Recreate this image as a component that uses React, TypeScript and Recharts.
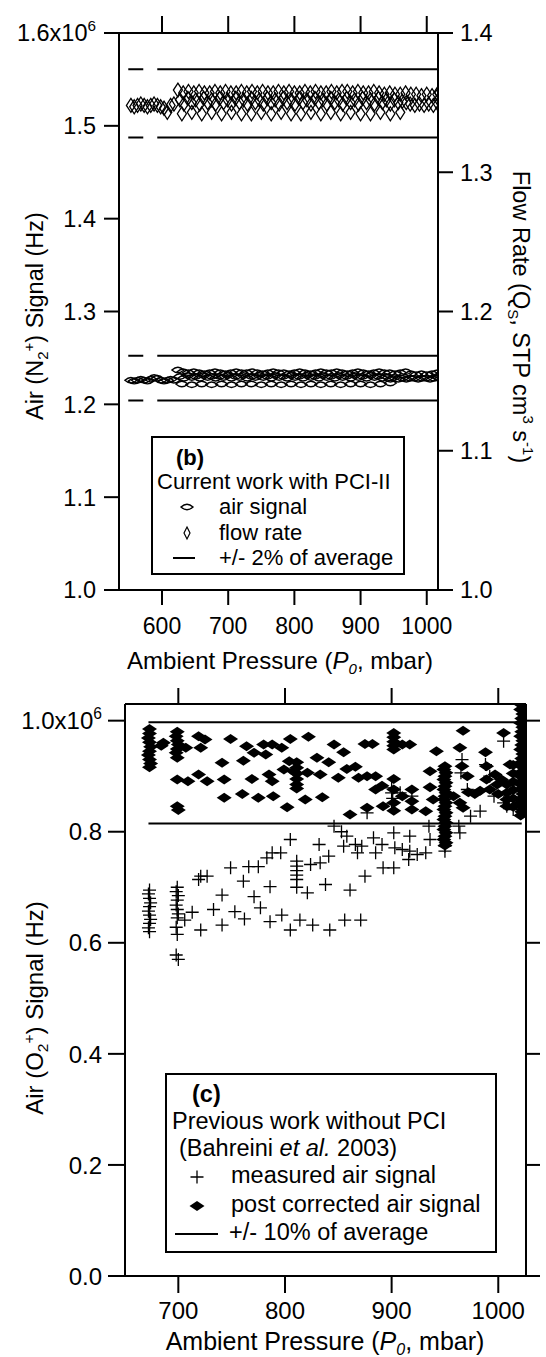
import React from 'react';
import { ComposedChart, Scatter, Line, XAxis, YAxis } from 'recharts';

type Pt = [number, number];
const FONT = '"Liberation Sans", Arial, Helvetica, sans-serif';

// ---------- panel (b): current work with PCI-II ----------
const xTicksB = [600, 700, 800, 900, 1000];
const airTicks = [1.0, 1.1, 1.2, 1.3, 1.4, 1.5, 1.6]; // x10^6 Hz
const flowTicks = [1.0, 1.1, 1.2, 1.3, 1.4]; // STP cm3 s-1

// air signal (x10^6 Hz, left axis)
const airLeft: Pt[] = [
  [553, 1.226], [558, 1.225], [563, 1.226], [568, 1.227], [573, 1.226], [578, 1.225], [583, 1.227],
  [588, 1.229], [593, 1.228], [598, 1.226], [603, 1.225], [608, 1.226], [613, 1.227], [618, 1.226],
];
const airUpper: Pt[] = [
  [624, 1.237], [632, 1.235], [640, 1.234], [648, 1.235], [656, 1.234], [664, 1.233], [672, 1.234],
  [680, 1.235], [688, 1.234], [696, 1.233], [704, 1.234], [712, 1.235], [720, 1.234], [728, 1.234],
  [736, 1.235], [744, 1.234], [752, 1.233], [760, 1.234], [768, 1.235], [776, 1.234], [784, 1.234],
  [792, 1.233], [800, 1.234], [808, 1.235], [816, 1.234], [824, 1.233], [832, 1.234], [840, 1.235],
  [848, 1.234], [856, 1.234], [864, 1.235], [872, 1.234], [880, 1.233], [888, 1.234], [896, 1.235],
  [904, 1.234], [912, 1.233], [920, 1.234], [928, 1.235], [936, 1.234], [944, 1.234], [952, 1.233],
  [960, 1.234], [968, 1.235], [976, 1.233], [984, 1.232], [992, 1.233], [1000, 1.232], [1008, 1.233],
  [1016, 1.234], [1019, 1.231],
];
const airMiddle: Pt[] = [
  [627, 1.230], [633, 1.228], [639, 1.231], [645, 1.229], [651, 1.230], [657, 1.228], [663, 1.231],
  [669, 1.229], [675, 1.230], [681, 1.228], [687, 1.230], [693, 1.229], [699, 1.231], [705, 1.228],
  [711, 1.230], [717, 1.229], [723, 1.231], [729, 1.228], [735, 1.230], [741, 1.229], [747, 1.231],
  [753, 1.229], [759, 1.230], [765, 1.228], [771, 1.231], [777, 1.229], [783, 1.230], [789, 1.228],
  [795, 1.231], [801, 1.229], [807, 1.230], [813, 1.228], [819, 1.231], [825, 1.229], [831, 1.230],
  [837, 1.228], [843, 1.231], [849, 1.229], [855, 1.230], [861, 1.228], [867, 1.231], [873, 1.229],
  [879, 1.230], [885, 1.228], [891, 1.231], [897, 1.229], [903, 1.230], [909, 1.228], [915, 1.231],
  [921, 1.229], [927, 1.230], [933, 1.228], [939, 1.230], [945, 1.227], [951, 1.229], [957, 1.227],
  [963, 1.228], [969, 1.227], [975, 1.228], [981, 1.228], [987, 1.227], [993, 1.228], [999, 1.228],
  [1005, 1.227], [1011, 1.228], [1017, 1.229],
];
const airLower: Pt[] = [
  [630, 1.222], [645, 1.221], [660, 1.222], [675, 1.221], [690, 1.222], [705, 1.221], [720, 1.222],
  [735, 1.222], [750, 1.221], [765, 1.222], [780, 1.221], [795, 1.222], [810, 1.221], [825, 1.222],
  [840, 1.221], [855, 1.222], [870, 1.221], [885, 1.222], [900, 1.222], [915, 1.221], [930, 1.222],
  [945, 1.223],
];

// flow rate (STP cm3 s-1, right axis)
const flowLeft: Pt[] = [
  [553, 1.348], [558, 1.347], [563, 1.348], [568, 1.349], [573, 1.348], [578, 1.347], [583, 1.348],
  [588, 1.349], [593, 1.348], [598, 1.347], [603, 1.346], [608, 1.343], [613, 1.348], [618, 1.349],
];
const flowUpper: Pt[] = [
  [624, 1.359], [632, 1.357], [640, 1.358], [648, 1.357], [656, 1.358], [664, 1.357], [672, 1.357],
  [680, 1.358], [688, 1.357], [696, 1.358], [704, 1.357], [712, 1.357], [720, 1.358], [728, 1.357],
  [736, 1.358], [744, 1.357], [752, 1.358], [760, 1.357], [768, 1.357], [776, 1.358], [784, 1.357],
  [792, 1.358], [800, 1.357], [808, 1.357], [816, 1.358], [824, 1.357], [832, 1.358], [840, 1.357],
  [848, 1.357], [856, 1.358], [864, 1.357], [872, 1.358], [880, 1.358], [888, 1.357], [896, 1.358],
  [904, 1.357], [912, 1.357], [920, 1.358], [928, 1.357], [936, 1.356], [944, 1.357], [952, 1.356],
  [960, 1.356], [968, 1.357], [976, 1.356], [984, 1.356], [992, 1.355], [1000, 1.356], [1008, 1.355],
  [1016, 1.356], [1019, 1.357],
];
const flowMiddle: Pt[] = [
  [627, 1.352], [633, 1.349], [639, 1.353], [645, 1.350], [651, 1.352], [657, 1.349], [663, 1.353],
  [669, 1.350], [675, 1.352], [681, 1.349], [687, 1.353], [693, 1.350], [699, 1.352], [705, 1.349],
  [711, 1.353], [717, 1.350], [723, 1.352], [729, 1.349], [735, 1.353], [741, 1.350], [747, 1.352],
  [753, 1.349], [759, 1.353], [765, 1.350], [771, 1.352], [777, 1.349], [783, 1.353], [789, 1.350],
  [795, 1.352], [801, 1.349], [807, 1.353], [813, 1.350], [819, 1.352], [825, 1.349], [831, 1.353],
  [837, 1.350], [843, 1.352], [849, 1.349], [855, 1.353], [861, 1.350], [867, 1.352], [873, 1.349],
  [879, 1.353], [885, 1.350], [891, 1.352], [897, 1.349], [903, 1.353], [909, 1.350], [915, 1.352],
  [921, 1.349], [927, 1.353], [933, 1.350], [939, 1.352], [945, 1.349], [951, 1.352], [957, 1.350],
  [963, 1.351], [969, 1.350],
];
const flowLower: Pt[] = [
  [630, 1.342], [645, 1.343], [660, 1.342], [675, 1.343], [690, 1.342], [705, 1.343], [720, 1.342],
  [735, 1.342], [750, 1.343], [765, 1.342], [780, 1.343], [795, 1.342], [810, 1.342], [825, 1.343],
  [840, 1.342], [855, 1.343], [870, 1.342], [885, 1.343], [900, 1.342], [915, 1.342], [930, 1.343],
  [945, 1.342], [960, 1.343],
];
const flowEnd: Pt[] = [
  [975, 1.349], [982, 1.348], [989, 1.349], [996, 1.348], [1003, 1.349], [1010, 1.348], [1017, 1.349],
];

// +/- 2% of average
const flowHigh: Pt[] = [[549, 1.374], [1016, 1.374]];
const flowLow: Pt[] = [[549, 1.325], [1016, 1.325]];
const airHigh: Pt[] = [[549, 1.2524], [1016, 1.2524]];
const airLow: Pt[] = [[549, 1.204], [1016, 1.204]];

// ---------- panel (c): previous work without PCI ----------
const xTicksC = [700, 800, 900, 1000];
const o2Ticks = [0.0, 0.2, 0.4, 0.6, 0.8, 1.0]; // x10^6 Hz

const measured: Pt[] = [
  [673, 0.695], [672, 0.688], [673, 0.680], [674, 0.672], [673, 0.665], [672, 0.657], [673, 0.650],
  [674, 0.642], [673, 0.635], [672, 0.627], [673, 0.620],
  [699, 0.700], [698, 0.692], [700, 0.685], [699, 0.677], [698, 0.668], [699, 0.660], [700, 0.652],
  [699, 0.645], [698, 0.628], [699, 0.615], [698, 0.578], [700, 0.570],
  [706, 0.641], [713, 0.655], [719, 0.714], [721, 0.720], [727, 0.720], [721, 0.623], [733, 0.660],
  [741, 0.686], [741, 0.632], [749, 0.735], [753, 0.656], [761, 0.711], [762, 0.643], [766, 0.737],
  [771, 0.683], [775, 0.737], [777, 0.663], [783, 0.753], [786, 0.701], [786, 0.638], [788, 0.762],
  [796, 0.762], [797, 0.650], [805, 0.786], [805, 0.623], [814, 0.641],
  [811, 0.747], [811, 0.738], [811, 0.730], [811, 0.722], [811, 0.714], [811, 0.700],
  [821, 0.690], [824, 0.741], [826, 0.632], [832, 0.777], [833, 0.744], [838, 0.705], [842, 0.623],
  [846, 0.810], [841, 0.756], [853, 0.800], [855, 0.774], [856, 0.641], [858, 0.792], [861, 0.695],
  [866, 0.777], [868, 0.762], [871, 0.641], [872, 0.774], [875, 0.720], [877, 0.834], [883, 0.789],
  [885, 0.762], [891, 0.777], [892, 0.735],
  [900, 0.879], [900, 0.870], [901, 0.860], [900, 0.850], [902, 0.798], [903, 0.771], [902, 0.735],
  [908, 0.870], [910, 0.768], [917, 0.792], [917, 0.765], [916, 0.750], [919, 0.864], [924, 0.759],
  [932, 0.762], [935, 0.810], [936, 0.786],
  [950, 0.774], [950, 0.765], [963, 0.810], [964, 0.798], [966, 0.930], [965, 0.906], [971, 0.876],
  [974, 0.828], [983, 0.837], [988, 0.921], [992, 0.900], [996, 0.864], [1005, 0.963], [1005, 0.852],
  [1008, 0.846], [1014, 0.840],
];

const corrected: Pt[] = [
  [673, 0.985], [673, 0.977], [672, 0.969], [673, 0.961], [674, 0.953], [673, 0.945], [672, 0.938],
  [673, 0.930], [674, 0.923], [673, 0.916],
  [686, 0.960], [684, 0.955],
  [699, 0.980], [698, 0.972], [699, 0.964], [700, 0.957], [699, 0.949], [698, 0.942], [699, 0.933],
  [707, 0.951], [699, 0.894], [709, 0.891], [699, 0.846], [700, 0.839],
  [719, 0.972], [725, 0.966], [721, 0.951], [719, 0.903], [727, 0.891],
  [741, 0.924], [743, 0.861], [749, 0.967], [743, 0.894], [760, 0.868], [761, 0.928], [764, 0.954],
  [769, 0.895], [771, 0.942], [775, 0.861], [780, 0.957], [782, 0.939], [788, 0.957], [785, 0.903],
  [788, 0.891], [789, 0.864], [797, 0.951], [799, 0.912], [802, 0.844], [805, 0.967], [804, 0.927],
  [811, 0.925], [811, 0.915], [811, 0.905], [811, 0.895], [811, 0.885], [811, 0.878], [808, 0.909],
  [819, 0.858], [822, 0.971], [821, 0.906], [833, 0.903], [830, 0.933], [835, 0.862], [841, 0.925],
  [846, 0.957], [850, 0.897], [855, 0.943], [858, 0.913], [861, 0.831], [866, 0.917], [869, 0.897],
  [875, 0.958], [877, 0.900], [877, 0.843], [882, 0.958], [885, 0.900], [885, 0.876], [891, 0.883],
  [892, 0.846],
  [902, 0.978], [902, 0.970], [902, 0.962], [902, 0.955], [902, 0.948], [902, 0.895], [902, 0.876],
  [902, 0.852], [902, 0.838],
  [910, 0.957], [917, 0.957], [910, 0.864], [919, 0.876], [919, 0.855], [919, 0.840], [932, 0.837],
  [936, 0.909], [936, 0.880], [942, 0.945], [939, 0.858],
  [950, 0.918], [949, 0.912], [951, 0.906], [950, 0.900], [949, 0.894], [951, 0.888], [950, 0.882],
  [949, 0.876], [951, 0.870], [950, 0.864], [949, 0.858], [951, 0.852], [950, 0.846], [949, 0.840],
  [951, 0.834], [950, 0.828], [949, 0.822], [951, 0.816], [950, 0.810], [949, 0.804], [951, 0.798],
  [950, 0.792], [949, 0.786], [951, 0.780], [950, 0.775],
  [958, 0.864], [964, 0.852], [967, 0.982], [964, 0.951], [966, 0.918], [971, 0.900], [972, 0.871],
  [967, 0.843], [978, 0.868], [983, 0.874], [988, 0.943], [989, 0.918], [989, 0.894], [992, 0.876],
  [997, 0.903], [999, 0.885], [1000, 0.868], [1003, 0.894], [1005, 0.978], [1011, 0.921],
  [1008, 0.885], [1008, 0.870], [1008, 0.858], [1008, 0.846],
  [1014, 0.920], [1014, 0.905], [1014, 0.890], [1014, 0.875], [1014, 0.860], [1014, 0.845],
  [1022, 1.028], [1021, 1.020], [1023, 1.012], [1022, 1.004], [1021, 0.996], [1023, 0.988],
  [1022, 0.980], [1021, 0.972], [1023, 0.964], [1022, 0.956], [1021, 0.948], [1023, 0.940],
  [1022, 0.932], [1021, 0.924], [1023, 0.916], [1022, 0.908], [1021, 0.900], [1023, 0.892],
  [1022, 0.884], [1021, 0.876], [1023, 0.868], [1022, 0.860], [1021, 0.852], [1023, 0.844],
  [1022, 0.836], [1021, 0.829],
];

// +/- 10% of average
const o2High: Pt[] = [[672, 0.997], [1022, 0.997]];
const o2Low: Pt[] = [[672, 0.815], [1022, 0.815]];

const pts = (arr: Pt[]) => arr.map(([x, y]) => ({ x, y }));

// ---------- markers ----------
const Lens = (p: any) => {
  const { cx, cy } = p;
  return (
    <path
      d={`M${cx - 6},${cy}Q${cx},${cy - 5.5} ${cx + 6},${cy}Q${cx},${cy + 5.5} ${cx - 6},${cy}Z`}
      fill="none" stroke="#000" strokeWidth={1.4}
    />
  );
};
const OpenDiamond = (p: any) => {
  const { cx, cy } = p;
  return (
    <path d={`M${cx},${cy - 7}L${cx + 4.5},${cy}L${cx},${cy + 7}L${cx - 4.5},${cy}Z`}
      fill="none" stroke="#000" strokeWidth={1.3} />
  );
};
const Plus = (p: any) => {
  const { cx, cy } = p;
  return <path d={`M${cx - 6.5},${cy}H${cx + 6.5}M${cx},${cy - 6.5}V${cy + 6.5}`} stroke="#000" strokeWidth={1.3} />;
};
const FilledDiamond = (p: any) => {
  const { cx, cy } = p;
  return <path d={`M${cx - 7.5},${cy}L${cx},${cy - 5}L${cx + 7.5},${cy}L${cx},${cy + 5}Z`} fill="#000" />;
};

// left axis tick with "x10^6" on the top label
const SciTick = (p: any) => {
  const { x, y, payload, top, size } = p;
  const v = payload.value as number;
  return (
    <text x={x} y={y} dy={size * 0.36} textAnchor="end" fontFamily={FONT} fontSize={size} fill="#000">
      {v.toFixed(1)}
      {Math.abs(v - top) < 1e-9 && (
        <>
          x10<tspan dy={-size * 0.45} fontSize={size * 0.65}>6</tspan>
        </>
      )}
    </text>
  );
};

const axisLine = { stroke: '#000', strokeWidth: 2 };

const App: React.FC = () => {
  return (
    <div style={{ position: 'absolute', left: 0, top: 0, width: 546, height: 1357, background: '#fff' }}>
      {/* panel (b) */}
      <div style={{ position: 'absolute', left: 0, top: 0 }}>
        <ComposedChart width={546} height={680} margin={{ top: 0, right: 0, bottom: 0, left: 0 }}>
          <XAxis xAxisId="b" dataKey="x" type="number" domain={[535, 1017]} ticks={xTicksB} allowDataOverflow
            height={90} tickSize={15} tickMargin={13} axisLine={axisLine} tickLine={axisLine}
            tick={{ fill: '#000', fontSize: 23, fontFamily: FONT }} />
          <XAxis xAxisId="t" orientation="top" dataKey="x" type="number" domain={[535, 1017]} ticks={xTicksB}
            allowDataOverflow height={33} tickSize={17} axisLine={axisLine} tickLine={axisLine}
            tickFormatter={() => ''} />
          <YAxis yAxisId="l" dataKey="y" type="number" domain={[1.0, 1.6]} ticks={airTicks} allowDataOverflow
            width={119} tickSize={15} tickMargin={8} axisLine={axisLine} tickLine={axisLine}
            tick={(p: any) => <SciTick {...p} top={1.6} size={23.5} />} />
          <YAxis yAxisId="r" orientation="right" dataKey="y" type="number" domain={[1.0, 1.4]} ticks={flowTicks}
            allowDataOverflow width={108} tickSize={15} tickMargin={7} axisLine={axisLine} tickLine={axisLine}
            tickFormatter={(v: number) => v.toFixed(1)} tick={{ fill: '#000', fontSize: 23.5, fontFamily: FONT }} />

          <Line xAxisId="b" yAxisId="r" data={pts(flowHigh)} dataKey="y" stroke="#000" strokeWidth={2}
            strokeDasharray="15 14 2000" dot={false} isAnimationActive={false} />
          <Line xAxisId="b" yAxisId="r" data={pts(flowLow)} dataKey="y" stroke="#000" strokeWidth={2}
            strokeDasharray="15 14 2000" dot={false} isAnimationActive={false} />
          <Line xAxisId="b" yAxisId="l" data={pts(airHigh)} dataKey="y" stroke="#000" strokeWidth={2}
            strokeDasharray="15 14 2000" dot={false} isAnimationActive={false} />
          <Line xAxisId="b" yAxisId="l" data={pts(airLow)} dataKey="y" stroke="#000" strokeWidth={2}
            strokeDasharray="15 14 2000" dot={false} isAnimationActive={false} />

          <Scatter xAxisId="b" yAxisId="l" data={pts(airLeft)} dataKey="y" shape={Lens} isAnimationActive={false} />
          <Scatter xAxisId="b" yAxisId="l" data={pts(airLower)} dataKey="y" shape={Lens} isAnimationActive={false} />
          <Scatter xAxisId="b" yAxisId="l" data={pts(airMiddle)} dataKey="y" shape={Lens} isAnimationActive={false} />
          <Scatter xAxisId="b" yAxisId="l" data={pts(airUpper)} dataKey="y" shape={Lens} isAnimationActive={false} />

          <Scatter xAxisId="b" yAxisId="r" data={pts(flowLeft)} dataKey="y" shape={OpenDiamond} isAnimationActive={false} />
          <Scatter xAxisId="b" yAxisId="r" data={pts(flowLower)} dataKey="y" shape={OpenDiamond} isAnimationActive={false} />
          <Scatter xAxisId="b" yAxisId="r" data={pts(flowMiddle)} dataKey="y" shape={OpenDiamond} isAnimationActive={false} />
          <Scatter xAxisId="b" yAxisId="r" data={pts(flowUpper)} dataKey="y" shape={OpenDiamond} isAnimationActive={false} />
          <Scatter xAxisId="b" yAxisId="r" data={pts(flowEnd)} dataKey="y" shape={OpenDiamond} isAnimationActive={false} />
        </ComposedChart>
      </div>

      {/* panel (c) */}
      <div style={{ position: 'absolute', left: 0, top: 680 }}>
        <ComposedChart width={546} height={677} margin={{ top: 0, right: 0, bottom: 0, left: 0 }}>
          <XAxis xAxisId="b" dataKey="x" type="number" domain={[650, 1026]} ticks={xTicksC} allowDataOverflow
            height={81} tickSize={17} tickMargin={9} axisLine={axisLine} tickLine={axisLine}
            tick={{ fill: '#000', fontSize: 24, fontFamily: FONT }} />
          <XAxis xAxisId="t" orientation="top" dataKey="x" type="number" domain={[650, 1026]} ticks={xTicksC}
            allowDataOverflow height={24} tickSize={16} axisLine={axisLine} tickLine={axisLine}
            tickFormatter={() => ''} />
          <YAxis yAxisId="l" dataKey="y" type="number" domain={[0, 1.03]} ticks={o2Ticks} allowDataOverflow
            width={125} tickSize={17} tickMargin={6} axisLine={axisLine} tickLine={axisLine}
            tick={(p: any) => <SciTick {...p} top={1.0} size={24} />} />
          <YAxis yAxisId="r" orientation="right" dataKey="y" type="number" domain={[0, 1.03]} ticks={o2Ticks}
            allowDataOverflow width={20} tickSize={14} axisLine={axisLine} tickLine={axisLine}
            tickFormatter={() => ''} />

          <Line xAxisId="b" yAxisId="l" data={pts(o2High)} dataKey="y" stroke="#000" strokeWidth={2}
            dot={false} isAnimationActive={false} />
          <Line xAxisId="b" yAxisId="l" data={pts(o2Low)} dataKey="y" stroke="#000" strokeWidth={2}
            dot={false} isAnimationActive={false} />

          <Scatter xAxisId="b" yAxisId="l" data={pts(measured)} dataKey="y" shape={Plus} isAnimationActive={false} />
          <Scatter xAxisId="b" yAxisId="l" data={pts(corrected)} dataKey="y" shape={FilledDiamond} isAnimationActive={false} />
        </ComposedChart>
      </div>

      {/* axis titles and legends */}
      <svg width={546} height={1357} style={{ position: 'absolute', left: 0, top: 0, pointerEvents: 'none' }}
        fontFamily={FONT} fill="#000">
        {/* panel (b) titles */}
        <text transform="translate(43,316) rotate(-90)" textAnchor="middle" fontSize={23.5}>
          Air (N<tspan fontSize={15} dy={5}>2</tspan><tspan fontSize={15} dy={-14}>+</tspan>
          <tspan dy={9}>) Signal (Hz)</tspan>
        </text>
        <text transform="translate(513,317) rotate(90)" textAnchor="middle" fontSize={23.5}>
          Flow Rate (Q<tspan fontSize={15} dy={5}>S</tspan><tspan dy={-5}>, STP cm</tspan>
          <tspan fontSize={15} dy={-10}>3</tspan><tspan dy={10}> s</tspan>
          <tspan fontSize={15} dy={-10}>-1</tspan><tspan dy={10}>)</tspan>
        </text>
        <text x={280} y={669} textAnchor="middle" fontSize={24}>
          Ambient Pressure (<tspan fontStyle="italic">P</tspan>
          <tspan fontStyle="italic" fontSize={15} dy={5}>0</tspan><tspan dy={-5}>, mbar)</tspan>
        </text>

        {/* panel (b) legend */}
        <rect x={152} y={437} width={252} height={137} fill="#fff" stroke="#000" strokeWidth={2} />
        <text x={176} y={465} fontSize={22} fontWeight="bold">(b)</text>
        <text x={157} y={489} fontSize={22}>Current work with PCI-II</text>
        <Lens cx={187} cy={507} />
        <text x={219} y={514} fontSize={22}>air signal</text>
        <path d="M187,527L190,533L187,539L184,533Z" fill="none" stroke="#000" strokeWidth={1.2} />
        <text x={219} y={540} fontSize={22}>flow rate</text>
        <line x1={173} y1={558} x2={195} y2={558} stroke="#000" strokeWidth={2} />
        <text x={219} y={565} fontSize={22}>+/- 2% of average</text>

        {/* panel (c) titles */}
        <text transform="translate(43,1008) rotate(-90)" textAnchor="middle" fontSize={24}>
          Air (O<tspan fontSize={15.5} dy={5}>2</tspan><tspan fontSize={15.5} dy={-14}>+</tspan>
          <tspan dy={9}>) Signal (Hz)</tspan>
        </text>
        <text x={325} y={1350} textAnchor="middle" fontSize={25}>
          Ambient Pressure (<tspan fontStyle="italic">P</tspan>
          <tspan fontStyle="italic" fontSize={16} dy={5}>0</tspan><tspan dy={-5}>, mbar)</tspan>
        </text>

        {/* panel (c) legend */}
        <rect x={166} y={1074} width={330} height={178} fill="#fff" stroke="#000" strokeWidth={2} />
        <text x={192} y={1102} fontSize={23.5} fontWeight="bold">(c)</text>
        <text x={172} y={1129} fontSize={23.5}>Previous work without PCI</text>
        <text x={179} y={1156} fontSize={23.5}>
          (Bahreini <tspan fontStyle="italic">et al.</tspan> 2003)
        </text>
        <Plus cx={197} cy={1177} />
        <text x={231} y={1183} fontSize={23.5}>measured air signal</text>
        <FilledDiamond cx={197} cy={1206} />
        <text x={231} y={1212} fontSize={23.5}>post corrected air signal</text>
        <line x1={175} y1={1234} x2={218} y2={1234} stroke="#000" strokeWidth={2} />
        <text x={229} y={1240} fontSize={23.5}>+/- 10% of average</text>
      </svg>
    </div>
  );
};

export default App;
